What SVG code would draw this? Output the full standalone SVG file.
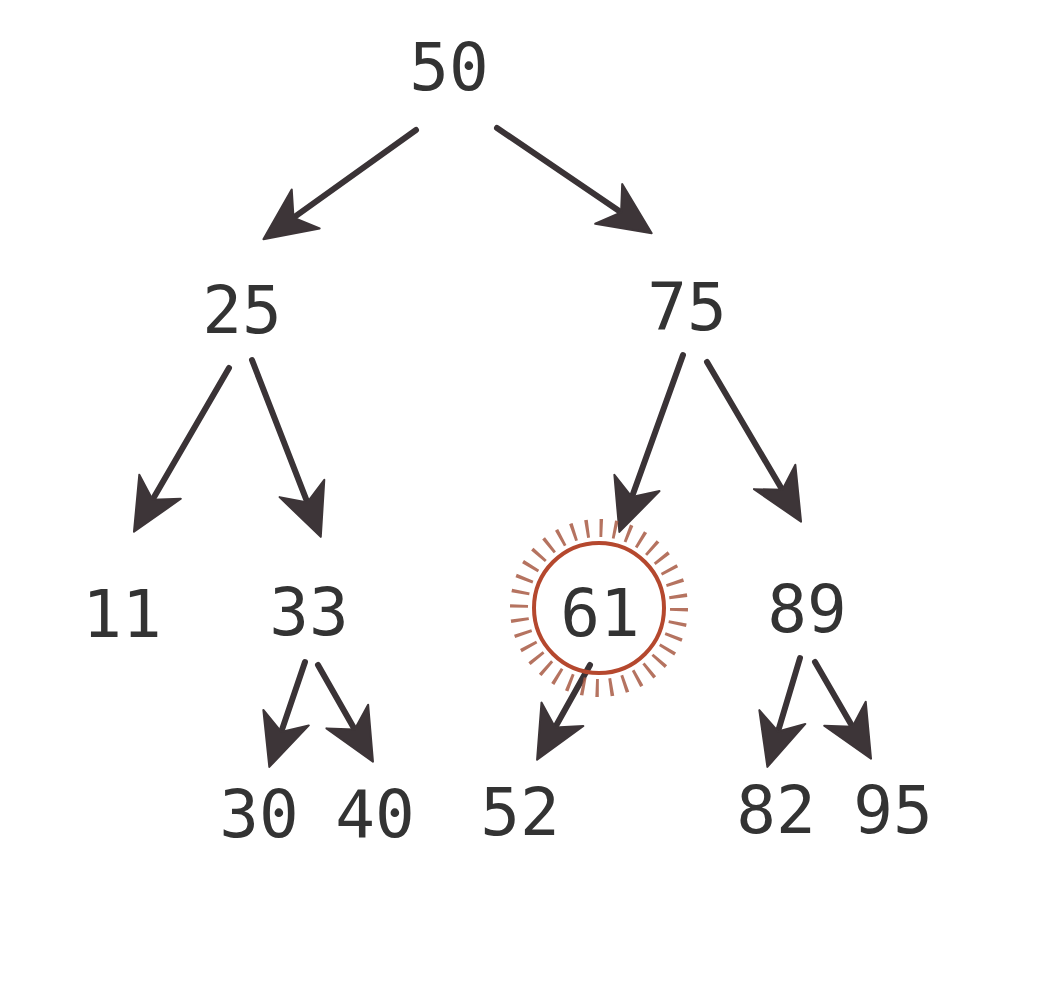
<svg xmlns="http://www.w3.org/2000/svg" width="1040" height="1000" viewBox="0 0 1040 1000">
<defs>
<style>
.n text{font-family:"DejaVu Sans Mono","Liberation Mono",monospace;font-size:66px;fill:#333;text-anchor:middle}
.e line{stroke:#3a3336;stroke-width:6;stroke-linecap:round;marker-end:url(#dart)}
</style>
<marker id="dart" markerUnits="userSpaceOnUse" viewBox="-40 -30 65 60" markerWidth="65" markerHeight="60" refX="0" refY="0" orient="auto" overflow="visible">
<path d="M22,0 L-30,-24 L-15,0 L-30,24 Z" fill="#3d3538" stroke="#3d3538" stroke-width="2" stroke-linejoin="round"/>
</marker>
</defs>
<rect width="1040" height="1000" fill="#fff"/>
<g id="edges" class="e">
<line x1="416" y1="130" x2="281.3" y2="226.4"/>
<line x1="497" y1="128" x2="633.5" y2="220.8"/>
<line x1="229" y1="368" x2="145" y2="512.7"/>
<line x1="252" y1="360" x2="312.8" y2="516.4"/>
<line x1="683" y1="355" x2="626.8" y2="511.2"/>
<line x1="707" y1="362" x2="789.9" y2="502.8"/>
<line x1="305" y1="662" x2="276.4" y2="746.1"/>
<line x1="318" y1="665" x2="362.1" y2="742.6"/>
<line x1="590" y1="665" x2="547.8" y2="740.5"/>
<line x1="800" y1="658" x2="773.7" y2="745.8"/>
<line x1="815" y1="662" x2="860" y2="739.7"/>
</g>
<g id="node-50" class="n"><text x="449" y="90">50</text></g>
<g id="node-25" class="n"><text x="242" y="333">25</text></g>
<g id="node-75" class="n"><text x="687" y="330">75</text></g>
<g id="node-11" class="n"><text x="122" y="637">11</text></g>
<g id="node-33" class="n"><text x="309" y="635">33</text></g>
<g id="node-61" class="n">
<circle cx="599" cy="608" r="80" fill="none" stroke="#a85a44" stroke-width="18" stroke-dasharray="3.2 10.76" opacity="0.85"/>
<circle cx="599" cy="608" r="65" fill="none" stroke="#b5482e" stroke-width="4"/>
<text x="600" y="636">61</text>
</g>
<g id="node-89" class="n"><text x="807" y="632">89</text></g>
<g id="node-30" class="n"><text x="259" y="837">30</text></g>
<g id="node-40" class="n"><text x="375" y="837">40</text></g>
<g id="node-52" class="n"><text x="520" y="835">52</text></g>
<g id="node-82" class="n"><text x="776" y="833">82</text></g>
<g id="node-95" class="n"><text x="893" y="833">95</text></g>
</svg>
